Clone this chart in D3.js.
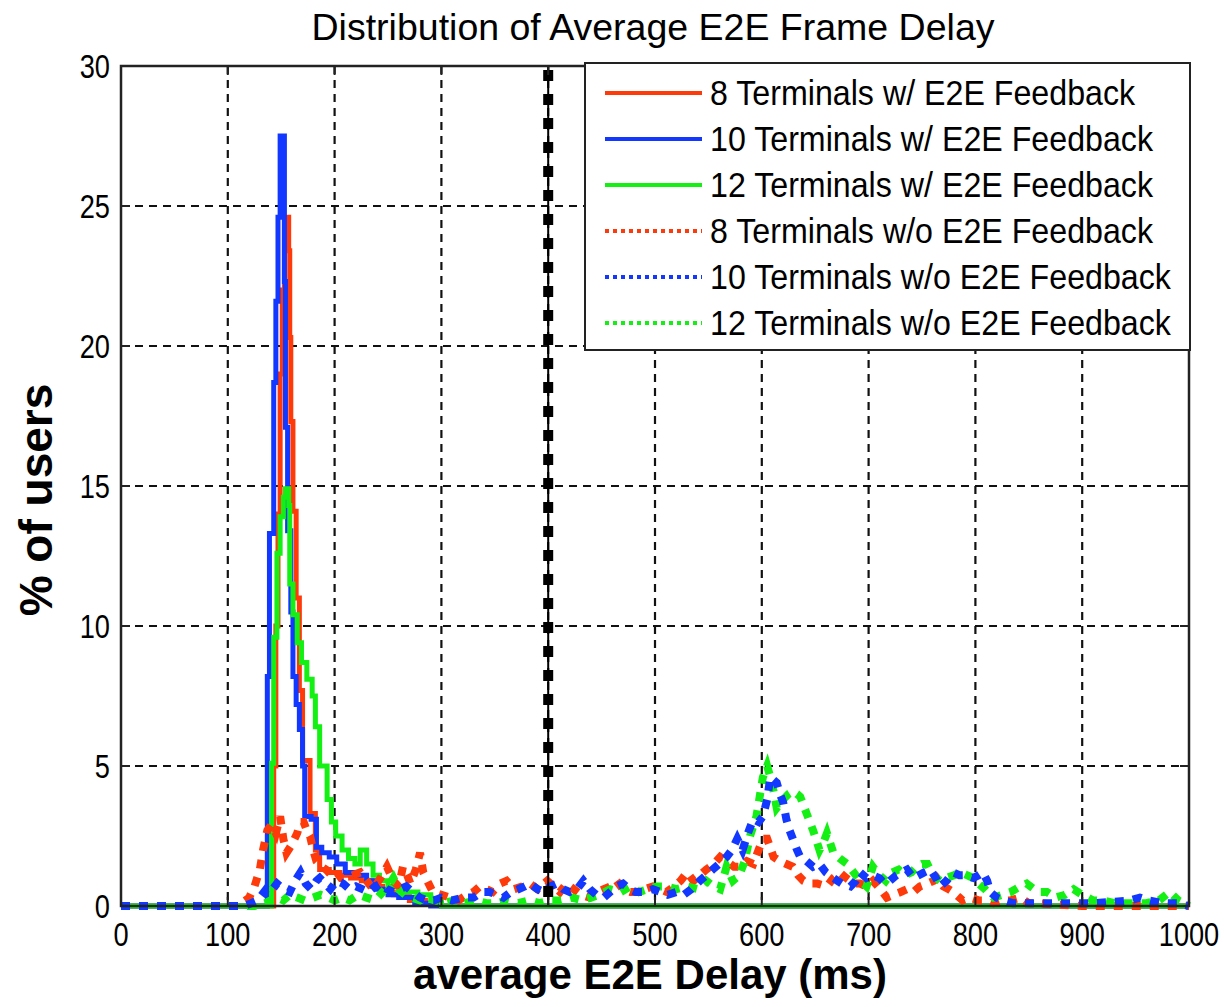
<!DOCTYPE html>
<html lang="en">
<head>
<meta charset="UTF-8">
<title>Distribution of Average E2E Frame Delay</title>
<script src="https://cdn.jsdelivr.net/npm/d3@7"></script>
<style>
	body { margin: 0; background: #fff; }
	.tick-label { font-family: "Liberation Sans", Arial, sans-serif; font-size: 34px; fill: #000; }
	.legend text { font-family: "Liberation Sans", Arial, sans-serif; font-size: 35px; fill: #000; }
	.title { font-family: "Liberation Sans", Arial, sans-serif; font-size: 37.5px; }
	.axis-label { font-family: "Liberation Sans", Arial, sans-serif; font-weight: bold; }
</style>
</head>
<body>
<script>
// x = delay (ms), y = % of users
var xTicks = [0, 100, 200, 300, 400, 500, 600, 700, 800, 900, 1000];
var yTicks = [0, 5, 10, 15, 20, 25, 30];
var thresholdMs = 400;

var seriesNames = [
	"8 Terminals w/ E2E Feedback",
	"10 Terminals w/ E2E Feedback",
	"12 Terminals w/ E2E Feedback",
	"8 Terminals w/o E2E Feedback",
	"10 Terminals w/o E2E Feedback",
	"12 Terminals w/o E2E Feedback"
];

var red8With = [[0,0],[141,0],[143,5],[145,10],[147,14],[149,19],[151,22],[153,24.6],[157,23.4],[158,20.3],[159,17.3],[161,14.1],[164,11],[167,7.7],[170,5.2],[177,3.3],[182,2.0],[186,1.3],[195,1.2],[205,1.1],[215,1.0],[225,0.9],[235,0.7],[245,0.5],[255,0.4],[270,0.2],[285,0.1],[300,0],[1000,0]];

var blue10With = [[0,0],[135,0],[137,8.2],[139,13.3],[143,18.7],[145,21.6],[147,24.6],[149,27.5],[153,22.3],[154,17.1],[156,13.4],[159,10.5],[161,8.2],[164,7.2],[167,6.3],[170,5.0],[172,3.2],[178,3.1],[183,2.1],[188,1.9],[195,1.75],[202,1.5],[210,1.2],[220,1.1],[230,0.9],[240,0.6],[250,0.4],[260,0.3],[275,0.1],[290,0],[1000,0]];

var green12With = [[0,0],[139,0],[141,5.1],[143,9.6],[146,12.6],[149,13.9],[152,14.6],[154,14.9],[157,14.3],[158,11.5],[161,10.4],[165,9.4],[169,8.7],[174,8.1],[179,7.5],[182,6.4],[186,5.0],[193,3.8],[197,3.0],[201,2.5],[207,2.0],[213,1.7],[219,1.5],[224,2.0],[230,1.5],[236,1.1],[242,0.9],[250,0.7],[262,0.5],[278,0.4],[290,0.2],[300,0],[1000,0]];

var red8Without = [[0,0],[110,0],[120,0.3],[125,0.7],[130,1.3],[133,2.0],[137,2.7],[141,2.9],[145,2.6],[149,3.2],[152,2.4],[155,1.9],[160,2.2],[165,2.6],[168,3.0],[171,3.0],[174,2.7],[177,2.5],[180,2.0],[183,1.6],[188,1.4],[192,1.3],[197,1.1],[202,1.2],[206,1.0],[211,1.0],[217,1.1],[224,1.2],[230,0.9],[236,0.6],[243,1.0],[249,1.4],[255,0.9],[260,0.7],[264,1.4],[268,1.1],[271,0.8],[276,1.3],[280,1.9],[283,1.2],[288,0.8],[292,0.5],[300,0.4],[308,0.3],[316,0.2],[324,0.4],[330,0.5],[336,0.7],[342,0.6],[348,0.5],[355,0.8],[361,0.9],[368,0.6],[376,0.7],[383,0.8],[390,0.6],[399,0.9],[405,0.7],[411,0.5],[417,0.8],[424,0.6],[431,0.4],[439,0.3],[446,0.5],[452,0.6],[458,0.7],[464,0.9],[470,0.6],[477,0.5],[483,0.5],[490,0.6],[498,0.7],[505,0.6],[511,0.5],[518,0.7],[524,0.9],[530,1.2],[536,0.9],[542,1.1],[548,1.3],[555,1.5],[561,1.75],[567,1.6],[574,1.4],[580,1.4],[586,1.6],[592,1.5],[597,2.0],[601,2.4],[605,2.4],[611,1.75],[617,1.6],[623,1.5],[629,1.4],[634,1.1],[639,0.9],[645,0.8],[652,0.8],[661,0.7],[667,1.0],[673,1.2],[679,1.0],[686,0.8],[692,0.8],[698,0.7],[704,0.9],[711,0.6],[717,0.3],[723,0.4],[730,0.5],[736,0.6],[742,0.5],[748,0.7],[755,0.8],[761,0.9],[764,1.0],[770,0.7],[775,0.6],[779,0.5],[785,0.3],[788,0.2],[795,0.3],[803,0.2],[810,0.2],[817,0.1],[825,0.2],[833,0.2],[842,0.3],[850,0.1],[860,0.1],[875,0.05],[900,0],[1000,0]];

var blue10Without = [[0,0],[115,0],[122,0.1],[128,0.2],[132,0.4],[136,0.6],[140,0.5],[146,0.8],[152,0.6],[158,0.5],[163,0.9],[168,1.2],[173,0.8],[178,0.6],[183,0.9],[186,1.0],[191,0.8],[196,0.6],[202,0.9],[208,0.8],[214,0.6],[220,0.7],[226,0.6],[232,0.5],[238,0.7],[243,0.8],[249,0.6],[255,0.5],[261,0.6],[267,0.7],[273,0.5],[280,0.3],[286,0.2],[293,0.2],[300,0.3],[310,0.2],[320,0.3],[330,0.3],[338,0.5],[345,0.5],[352,0.4],[358,0.3],[365,0.5],[372,0.6],[378,0.7],[383,0.8],[390,0.6],[396,0.5],[402,0.7],[408,0.8],[414,0.6],[420,0.5],[427,0.6],[433,0.9],[439,0.6],[445,0.4],[452,0.3],[458,0.5],[464,0.7],[470,0.8],[476,0.6],[482,0.5],[490,0.5],[498,0.6],[505,0.5],[512,0.4],[520,0.5],[527,0.4],[534,0.6],[542,0.9],[548,1.1],[554,1.3],[560,1.5],[567,1.75],[572,2.0],[577,2.4],[582,2.0],[587,2.6],[592,3.1],[597,3.0],[601,3.2],[605,3.8],[608,4.6],[611,4.5],[614,4.4],[617,4.0],[620,3.7],[623,3.1],[626,2.7],[629,2.4],[633,2.0],[636,1.75],[642,1.6],[648,1.4],[654,1.5],[660,1.2],[667,1.0],[675,0.8],[683,0.7],[688,0.9],[692,1.2],[698,1.0],[704,1.1],[710,1.0],[715,0.8],[720,0.9],[726,1.1],[731,1.2],[736,1.3],[742,1.0],[747,1.1],[752,1.2],[758,1.3],[763,1.0],[767,0.7],[773,0.9],[779,1.2],[785,1.1],[791,1.1],[798,1.0],[803,1.1],[807,1.2],[811,0.9],[814,0.5],[820,0.3],[826,0.2],[835,0.1],[850,0.1],[870,0.1],[890,0.1],[910,0.1],[930,0.15],[945,0.2],[954,0.3],[962,0.2],[975,0.1],[990,0.1],[1000,0]];

var green12Without = [[0,0],[125,0],[135,0.1],[140,0.2],[146,0.3],[152,0.2],[158,0.4],[165,0.3],[172,0.2],[180,0.3],[187,0.4],[194,0.3],[200,0.2],[207,0.3],[214,0.2],[222,0.4],[230,0.3],[238,0.2],[245,0.5],[250,0.7],[255,1.0],[260,0.6],[266,0.4],[272,0.3],[280,0.2],[286,0.3],[294,0.2],[302,0.1],[312,0.2],[322,0.1],[332,0.2],[342,0.1],[352,0.1],[362,0.2],[372,0.1],[382,0.2],[392,0.1],[402,0.2],[412,0.2],[422,0.3],[432,0.2],[440,0.3],[448,0.4],[458,0.6],[468,0.5],[477,0.7],[485,0.5],[493,0.6],[502,0.7],[511,0.7],[520,0.6],[530,0.7],[540,0.6],[548,0.9],[555,0.7],[561,0.6],[567,1.4],[573,0.9],[579,1.1],[584,1.6],[589,2.5],[595,3.2],[598,3.9],[601,4.6],[605,5.0],[608,4.6],[611,4.1],[614,3.5],[620,3.8],[625,4.0],[629,4.1],[633,4.0],[636,3.9],[642,3.3],[648,2.7],[654,2.0],[658,2.3],[661,2.6],[667,1.9],[673,1.7],[680,1.5],[686,1.2],[692,0.9],[698,0.7],[704,1.4],[710,1.1],[716,0.9],[722,1.2],[728,1.3],[734,1.1],[740,1.2],[745,1.4],[750,1.5],[755,1.5],[760,1.1],[767,0.9],[773,1.0],[780,1.1],[786,1.2],[792,1.1],[798,1.0],[803,0.8],[809,0.6],[814,0.4],[817,0.3],[825,0.4],[833,0.5],[842,0.7],[848,0.8],[855,0.6],[861,0.5],[867,0.5],[875,0.3],[884,0.4],[892,0.6],[900,0.4],[910,0.2],[920,0.2],[930,0.1],[945,0.1],[960,0.1],[972,0.2],[982,0.5],[990,0.2],[1000,0]];

var red = "#ff3a0a", blue = "#1238ff", green = "#14f014";

var series = [
	{ name: seriesNames[0], values: red8With, color: red, dotted: false },
	{ name: seriesNames[1], values: blue10With, color: blue, dotted: false },
	{ name: seriesNames[2], values: green12With, color: green, dotted: false },
	{ name: seriesNames[3], values: red8Without, color: red, dotted: true },
	{ name: seriesNames[4], values: blue10Without, color: blue, dotted: true },
	{ name: seriesNames[5], values: green12Without, color: green, dotted: true }
];
// drawing order: solids first, then dotted (blue dotted last)
var drawOrder = [0, 1, 2, 3, 5, 4];

var W = 1224, H = 1007;
var margin = { top: 66, right: 35, bottom: 101, left: 121 };
var width = W - margin.left - margin.right;
var height = H - margin.top - margin.bottom;

var svg = d3.select("body").append("svg")
	.attr("width", W)
	.attr("height", H);

var g = svg.append("g")
	.attr("transform", "translate(" + margin.left + "," + margin.top + ")");

var x = d3.scaleLinear().domain([0, 1000]).range([0, width]);
var y = d3.scaleLinear().domain([0, 30]).range([height, 0]);

// grid
g.selectAll(".vgrid")
	.data(xTicks.slice(1, -1))
	.enter().append("line")
	.attr("x1", function(d) { return x(d); })
	.attr("x2", function(d) { return x(d); })
	.attr("y1", 0).attr("y2", height)
	.attr("stroke", "#111").attr("stroke-width", 2.2)
	.attr("stroke-dasharray", "8,6");

g.selectAll(".hgrid")
	.data(yTicks.slice(1, -1))
	.enter().append("line")
	.attr("y1", function(d) { return y(d); })
	.attr("y2", function(d) { return y(d); })
	.attr("x1", 0).attr("x2", width)
	.attr("stroke", "#111").attr("stroke-width", 2.2)
	.attr("stroke-dasharray", "8,6");

// series
var lineStep = d3.line()
	.x(function(d) { return x(d[0]); })
	.y(function(d) { return y(d[1]); })
	.curve(d3.curveStepAfter);
var lineLinear = d3.line()
	.x(function(d) { return x(d[0]); })
	.y(function(d) { return y(d[1]); });

var plot = g.append("g");
drawOrder.forEach(function(i) {
	var s = series[i];
	plot.append("path")
		.datum(s.values)
		.attr("fill", "none")
		.attr("stroke", s.color)
		.attr("stroke-width", s.dotted ? 8 : 5)
		.attr("stroke-dasharray", s.dotted ? "9,9" : null)
		.attr("stroke-linejoin", "miter")
		.attr("d", s.dotted ? lineLinear : lineStep);
});

// threshold at 400 ms
g.append("line")
	.attr("x1", x(thresholdMs)).attr("x2", x(thresholdMs))
	.attr("y1", 0).attr("y2", height)
	.attr("stroke", "#000").attr("stroke-width", 2);
g.append("line")
	.attr("x1", x(thresholdMs)).attr("x2", x(thresholdMs))
	.attr("y1", 4).attr("y2", height)
	.attr("stroke", "#000").attr("stroke-width", 10)
	.attr("stroke-dasharray", "11,13");

// box and ticks
g.append("rect")
	.attr("width", width).attr("height", height)
	.attr("fill", "none").attr("stroke", "#222").attr("stroke-width", 2.5);

var tickLen = 9;
xTicks.forEach(function(t) {
	g.append("line").attr("x1", x(t)).attr("x2", x(t))
		.attr("y1", height).attr("y2", height - tickLen)
		.attr("stroke", "#222").attr("stroke-width", 2);
	g.append("line").attr("x1", x(t)).attr("x2", x(t))
		.attr("y1", 0).attr("y2", tickLen)
		.attr("stroke", "#222").attr("stroke-width", 2);
});
yTicks.forEach(function(t) {
	g.append("line").attr("y1", y(t)).attr("y2", y(t))
		.attr("x1", 0).attr("x2", tickLen)
		.attr("stroke", "#222").attr("stroke-width", 2);
	g.append("line").attr("y1", y(t)).attr("y2", y(t))
		.attr("x1", width).attr("x2", width - tickLen)
		.attr("stroke", "#222").attr("stroke-width", 2);
});

// tick labels, horizontally condensed like the original bitmap font
g.selectAll(".xlab")
	.data(xTicks)
	.enter().append("text")
	.attr("class", "tick-label")
	.attr("transform", function(d) { return "translate(" + x(d) + "," + (height + 40) + ") scale(0.8,1)"; })
	.attr("text-anchor", "middle")
	.text(function(d) { return d; });

g.selectAll(".ylab")
	.data(yTicks)
	.enter().append("text")
	.attr("class", "tick-label")
	.attr("transform", function(d) { return "translate(-11," + (y(d) + 12) + ") scale(0.8,1)"; })
	.attr("text-anchor", "end")
	.text(function(d) { return d; });

// titles
svg.append("text")
	.attr("class", "title")
	.attr("x", 653).attr("y", 40)
	.attr("text-anchor", "middle")
	.text("Distribution of Average E2E Frame Delay");

svg.append("text")
	.attr("class", "axis-label")
	.style("font-size", "42px")
	.attr("x", 650).attr("y", 989)
	.attr("text-anchor", "middle")
	.text("average E2E Delay (ms)");

svg.append("text")
	.attr("class", "axis-label")
	.style("font-size", "46px")
	.attr("transform", "translate(52,500) rotate(-90)")
	.attr("text-anchor", "middle")
	.text("% of users");

// legend
var legend = svg.append("g").attr("class", "legend")
	.attr("transform", "translate(585,63)");
legend.append("rect")
	.attr("width", 605).attr("height", 287)
	.attr("fill", "#fff").attr("stroke", "#222").attr("stroke-width", 2);

var items = legend.selectAll(".item")
	.data(series)
	.enter().append("g")
	.attr("transform", function(d, i) { return "translate(0," + (30 + i * 46) + ")"; });
items.append("line")
	.attr("x1", 20).attr("x2", 117)
	.attr("stroke", function(d) { return d.color; })
	.attr("stroke-width", 4)
	.attr("stroke-dasharray", function(d) { return d.dotted ? "4,4" : null; });
items.append("text")
	.attr("transform", "translate(125,12) scale(0.92,1)")
	.text(function(d) { return d.name; });
</script>
</body>
</html>
